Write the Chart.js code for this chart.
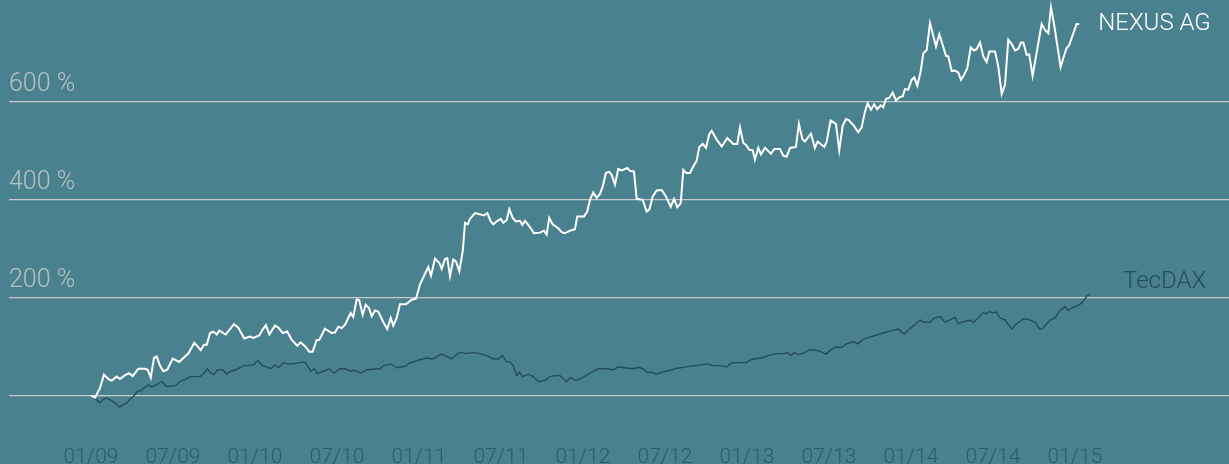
<!DOCTYPE html>
<html>
<head>
<meta charset="utf-8">
<script src="https://cdn.jsdelivr.net/npm/chart.js@4"></script>
<style>
  html, body { margin: 0; padding: 0; background: #4a818e; }
  #wrap { width: 1229px; height: 464px; position: relative; }
</style>
</head>
<body>
<div id="wrap"><canvas id="chart"></canvas></div>
<script>
// months since 01/2009, performance in %
const nexusMonths = [0, 0.3, 0.66, 0.95, 1.27, 1.51, 1.88, 2.12, 2.44, 2.78, 3.05, 3.46, 3.95, 4.15, 4.37, 4.61, 4.81, 5.05, 5.29, 5.58, 5.98,
  6.46, 6.8, 7.12, 7.56, 8.03, 8.27, 8.47, 8.71, 8.95, 9.2, 9.39, 9.86, 10.17, 10.46, 10.78, 11.22, 11.63, 11.88, 12.31, 12.56, 12.8,
  13.05, 13.46, 13.71, 14.03, 14.36, 14.69, 15.1, 15.34, 15.66, 15.97, 16.22, 16.51, 16.7, 17.12, 17.61, 17.85, 18.1, 18.34, 18.59,
  19.0, 19.19, 19.44, 19.63, 19.88, 20.1, 20.34, 20.54, 20.78, 21.02, 21.39, 21.68, 21.93, 22.12, 22.37, 22.61, 23.05, 23.47, 23.78,
  24.07, 24.37, 24.68, 24.88, 25.17, 25.49, 25.66, 25.9, 26.07, 26.27, 26.51, 26.71, 26.95, 27.2, 27.37, 27.56, 27.73, 28.1, 28.76,
  29.0, 29.25, 29.44, 29.69, 29.98, 30.17, 30.42, 30.61, 30.86, 31.08, 31.39, 31.56, 31.76, 32.05, 32.41, 32.85, 33.15, 33.34, 33.53,
  33.78, 34.19, 34.44, 34.68, 35.05, 35.41, 35.58, 36.07, 36.31, 36.51, 36.75, 37.0, 37.24, 37.44, 37.68, 37.92, 38.1, 38.34, 38.58,
  38.83, 39.24, 39.44, 39.73, 39.93, 40.37, 40.66, 40.85, 41.1, 41.39, 41.76, 42.07, 42.42, 42.66, 42.9, 43.15, 43.34, 43.54, 43.83,
  44.07, 44.32, 44.51, 44.76, 45.0, 45.24, 45.42, 45.78, 46.15, 46.56, 47.0, 47.29, 47.49, 47.73, 47.93, 48.17, 48.42, 48.58, 48.83,
  49.02, 49.32, 49.75, 50.0, 50.41, 50.66, 50.9, 51.15, 51.58, 51.8, 52.05, 52.24, 52.68, 52.97, 53.17, 53.66, 53.83, 54.12, 54.51,
  54.75, 55.0, 55.25, 55.44, 55.83, 56.14, 56.39, 56.63, 56.83, 57.07, 57.31, 57.53, 57.78, 57.97, 58.17, 58.41, 58.66, 58.9, 59.19,
  59.39, 59.56, 59.8, 60.05, 60.24, 60.46, 60.71, 60.9, 61.15, 61.39, 61.63, 61.83, 62.07, 62.32, 62.56, 62.73, 62.98, 63.22, 63.46,
  63.66, 63.88, 64.12, 64.37, 64.61, 64.81, 65.05, 65.29, 65.54, 65.73, 66.15, 66.39, 66.64, 66.88, 67.12, 67.37, 67.61, 67.85, 68.05,
  68.22, 68.46, 68.65, 68.9, 69.56, 69.8, 70.05, 70.24, 70.48, 70.95, 71.14, 71.39, 71.58, 72.12, 72.31];
const nexusValues = [0, -4, 16, 43, 34, 31, 39, 34, 41, 46, 40, 55, 55, 53, 37, 77, 80, 61, 50, 53, 76,
  69, 78, 86, 108, 93, 104, 104, 128, 131, 125, 133, 125, 136, 146, 139, 117, 121, 118, 123, 135, 144,
  125, 143, 139, 128, 131, 114, 102, 109, 101, 90, 90, 114, 114, 137, 128, 129, 141, 138, 145,
  169, 161, 197, 195, 165, 186, 179, 162, 174, 172, 150, 136, 159, 143, 159, 187, 187, 196, 198,
  227, 245, 263, 245, 280, 271, 259, 279, 281, 244, 278, 274, 254, 295, 353, 350, 361, 373, 368,
  373, 356, 350, 356, 361, 353, 359, 381, 363, 356, 357, 349, 357, 347, 332, 333, 337, 329, 363,
  350, 342, 334, 332, 337, 340, 366, 366, 376, 400, 415, 404, 412, 427, 455, 457, 451, 431, 463,
  460, 465, 459, 458, 402, 400, 376, 380, 407, 419, 420, 407, 386, 402, 385, 393, 461, 455, 455,
  468, 480, 508, 514, 506, 534, 541, 523, 509, 526, 514, 514, 548, 516, 512, 502, 501, 482, 506,
  493, 506, 494, 504, 504, 490, 488, 506, 508, 555, 524, 519, 535, 506, 519, 508, 519, 562, 555,
  501, 551, 565, 563, 551, 538, 548, 580, 597, 584, 595, 585, 593, 589, 606, 608, 619, 603, 610,
  611, 626, 625, 645, 650, 633, 662, 699, 706, 761, 735, 713, 738, 716, 694, 693, 663, 664, 660,
  645, 655, 669, 711, 705, 708, 721, 693, 681, 703, 703, 672, 616, 635, 727, 718, 705, 708, 721,
  721, 696, 697, 653, 759, 747, 740, 793, 757, 671, 689, 710, 716, 759, 759];

const tecdaxMonths = [0, 0.29, 0.66, 0.9, 1.19, 1.51, 1.83, 2.07, 2.36, 2.61, 2.85, 3.15, 3.39, 3.71, 3.88, 4.19, 4.44, 4.76, 5.17, 5.54,
  6.15, 6.51, 6.95, 7.24, 7.54, 7.98, 8.34, 8.51, 8.76, 9.0, 9.24, 9.64, 9.93, 10.22, 10.61, 11.14, 11.88, 12.2, 12.56, 12.86, 13.15,
  13.46, 13.71, 14.07, 14.36, 14.8, 15.29, 15.66, 15.9, 16.1, 16.34, 16.56, 17.0, 17.44, 17.78, 18.22, 18.66, 18.95, 19.24, 19.76,
  20.17, 21.15, 21.39, 21.93, 22.37, 22.98, 23.34, 23.83, 24.12, 24.56, 25.0, 25.29, 25.61, 25.9, 26.39, 26.76, 27.0, 27.49, 27.93,
  28.34, 28.95, 29.44, 29.8, 30.12, 30.42, 30.66, 30.9, 31.15, 31.34, 31.59, 32.0, 32.36, 32.73, 33.22, 33.58, 33.95, 34.32, 34.81,
  35.1, 35.49, 35.9, 36.27, 36.51, 37.12, 37.73, 38.22, 38.58, 39.07, 39.68, 40.05, 40.41, 40.66, 41.03, 41.39, 41.76, 42.24, 42.73,
  43.1, 43.59, 44.07, 44.68, 45.17, 45.42, 46.02, 46.51, 46.88, 47.49, 47.93, 48.34, 48.71, 49.07, 49.56, 50.17, 50.66, 50.95, 51.2,
  51.44, 51.75, 52.12, 52.61, 53.22, 53.46, 53.78, 54.07, 54.44, 54.93, 55.29, 55.83, 56.1, 56.51, 57.12, 57.73, 58.1, 58.59, 59.07,
  59.51, 59.88, 60.22, 60.66, 60.95, 61.39, 61.63, 62.12, 62.49, 62.85, 63.22, 63.46, 63.95, 64.32, 64.61, 65.05, 65.29, 65.49, 65.73,
  65.98, 66.22, 66.51, 66.88, 67.37, 67.73, 68.22, 68.71, 69.07, 69.44, 69.63, 69.93, 70.22, 70.54, 70.85, 71.27, 71.51, 71.76, 72.17,
  72.49, 72.86, 73.1];
const tecdaxValues = [0, -6, -14, -7, -5, -10, -16, -23, -18, -15, -7, 0, 9, 11, 16, 22, 18, 22, 29, 19,
  20, 29, 34, 39, 39, 39, 48, 55, 46, 43, 53, 53, 44, 50, 53, 61, 63, 72, 61, 59, 55,
  63, 57, 67, 65, 65, 68, 68, 59, 50, 55, 45, 50, 55, 46, 55, 55, 50, 52, 46,
  53, 55, 61, 65, 57, 60, 67, 71, 74, 77, 75, 79, 85, 82, 75, 84, 89, 86, 88,
  87, 82, 75, 75, 82, 69, 69, 61, 41, 48, 39, 44, 39, 29, 31, 39, 41, 41, 29,
  37, 31, 36, 42, 46, 55, 55, 53, 59, 57, 55, 58, 55, 48, 48, 44, 48, 51, 55,
  57, 59, 61, 63, 65, 62, 61, 59, 67, 68, 67, 74, 76, 77, 82, 86, 86, 88, 82,
  88, 84, 87, 94, 92, 89, 85, 92, 99, 99, 106, 110, 106, 115, 121, 126, 129, 133, 136,
  126, 136, 143, 155, 150, 150, 157, 162, 150, 155, 160, 147, 152, 154, 150, 163, 170, 167, 172,
  169, 171, 159, 155, 136, 147, 157, 155, 150, 136, 137, 147, 155, 159, 172, 182, 174, 179, 184,
  189, 203, 208];

const seriesNames = ["NEXUS AG", "TecDAX"];
const xTickMonths = [0, 6, 12, 18, 24, 30, 36, 42, 48, 54, 60, 66, 72];
const xTickLabels = ["01/09", "07/09", "01/10", "07/10", "01/11", "07/11", "01/12", "07/12", "01/13", "07/13", "01/14", "07/14", "01/15"];
const yTickValues = [0, 200, 400, 600];

const FONT = "Roboto, 'Helvetica Neue', Arial, sans-serif";

const toPoints = (xs, ys) => xs.map((x, i) => ({ x: x, y: ys[i] }));

// writes the series name next to the last point of each line
const endLabels = {
  id: "endLabels",
  afterDatasetsDraw(chart) {
    const ctx = chart.ctx;
    const offsets = [[19, 0], [33, -12]];
    const colors = ["#ffffff", "#244e5a"];
    ctx.save();
    ctx.font = "300 24px " + FONT;
    ctx.textBaseline = "middle";
    ctx.textAlign = "left";
    chart.data.datasets.forEach((ds, i) => {
      const pts = chart.getDatasetMeta(i).data;
      const last = pts[pts.length - 1];
      ctx.fillStyle = colors[i];
      ctx.fillText(seriesNames[i], last.x + offsets[i][0], last.y + offsets[i][1]);
    });
    ctx.restore();
  },
};

new Chart(document.getElementById("chart"), {
  type: "line",
  data: {
    datasets: [
      {
        label: seriesNames[0],
        data: toPoints(nexusMonths, nexusValues),
        borderColor: "#ffffff",
        borderWidth: 2,
        pointRadius: 0,
        tension: 0,
      },
      {
        label: seriesNames[1],
        data: toPoints(tecdaxMonths, tecdaxValues),
        borderColor: "#244e5a",
        borderWidth: 1.4,
        pointRadius: 0,
        tension: 0,
      },
    ],
  },
  options: {
    responsive: true,
    maintainAspectRatio: false,
    animation: false,
    layout: { padding: { left: 9, right: 0, top: 0, bottom: 0 } },
    plugins: {
      legend: { display: false },
      tooltip: { enabled: false },
    },
    scales: {
      x: {
        type: "linear",
        min: -6,
        max: 83.27,
        grid: { display: false },
        border: { display: false },
        afterBuildTicks: (scale) => {
          scale.ticks = xTickMonths.map((v) => ({ value: v }));
        },
        afterFit: (scale) => {
          scale.height = 34;
          scale.paddingLeft = 0;
          scale.paddingRight = 0;
        },
        ticks: {
          autoSkip: false,
          maxRotation: 0,
          padding: 7,
          color: "#2d5c68",
          font: { family: FONT, size: 21, weight: 300 },
          callback: (v) => xTickLabels[xTickMonths.indexOf(v)] || "",
        },
      },
      y: {
        min: -70,
        max: 808,
        border: { display: false },
        grid: { color: "#c6cbcc", lineWidth: 1.2, drawTicks: false },
        afterBuildTicks: (scale) => {
          scale.ticks = yTickValues.map((v) => ({ value: v }));
        },
        afterFit: (scale) => {
          scale.width = 0;
          scale.paddingTop = 0;
          scale.paddingBottom = 0;
        },
        ticks: {
          mirror: true,
          padding: 0,
          labelOffset: -17,
          color: "#b3c2c5",
          font: { family: FONT, size: 25, weight: 300 },
          callback: (v) => (v === 0 ? "" : v + " %"),
        },
      },
    },
  },
  plugins: [endLabels],
});
</script>
</body>
</html>
